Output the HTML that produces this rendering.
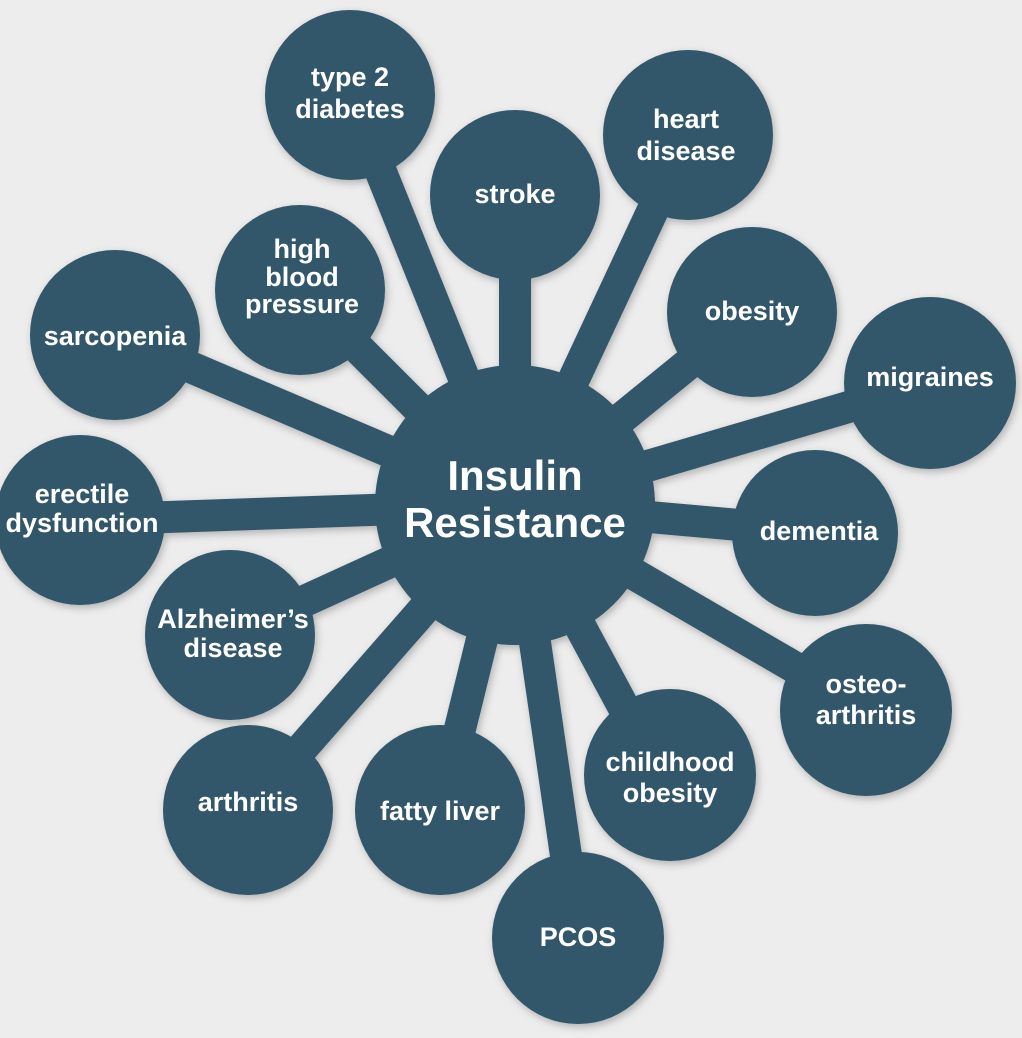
<!DOCTYPE html>
<html><head><meta charset="utf-8"><style>
html,body{margin:0;padding:0;background:#ededed;}
svg{display:block}
text{font-family:"Liberation Sans",sans-serif;font-weight:bold;fill:#fff;text-anchor:middle;}
</style></head><body>
<svg width="1022" height="1038" viewBox="0 0 1022 1038">
<defs><filter id="sh" x="-10%" y="-10%" width="120%" height="120%"><feDropShadow dx="2" dy="3" stdDeviation="4" flood-color="#000" flood-opacity="0.25"/></filter></defs>
<g fill="#30566a" stroke="#30566a" stroke-linecap="round" filter="url(#sh)">
<g stroke-width="32">
<line x1="515" y1="505" x2="350" y2="95"/>
<line x1="515" y1="505" x2="515" y2="195"/>
<line x1="515" y1="505" x2="688" y2="135"/>
<line x1="515" y1="505" x2="300" y2="290"/>
<line x1="515" y1="505" x2="115" y2="335"/>
<line x1="515" y1="505" x2="752" y2="312"/>
<line x1="515" y1="505" x2="930" y2="383"/>
<line x1="515" y1="505" x2="80" y2="520"/>
<line x1="515" y1="505" x2="818" y2="532"/>
<line x1="515" y1="505" x2="230" y2="635"/>
<line x1="515" y1="505" x2="868" y2="710"/>
<line x1="515" y1="505" x2="248" y2="810"/>
<line x1="515" y1="505" x2="440" y2="810"/>
<line x1="515" y1="505" x2="660" y2="775"/>
<line x1="515" y1="505" x2="578" y2="938"/>
</g>
<g stroke="none">
<circle cx="515" cy="505" r="140"/>
<circle cx="350" cy="95" r="85"/>
<circle cx="515" cy="195" r="85"/>
<circle cx="688" cy="135" r="85"/>
<circle cx="300" cy="290" r="85"/>
<circle cx="115" cy="335" r="85"/>
<circle cx="752" cy="312" r="85"/>
<circle cx="930" cy="383" r="86"/>
<circle cx="80" cy="520" r="85"/>
<circle cx="815" cy="533" r="83"/>
<circle cx="230" cy="635" r="85"/>
<circle cx="866" cy="710" r="86"/>
<circle cx="248" cy="810" r="85"/>
<circle cx="440" cy="810" r="85"/>
<circle cx="670" cy="775" r="86"/>
<circle cx="578" cy="938" r="86"/>
</g>
</g>
<text x="515" y="490" font-size="42">Insulin</text>
<text x="515" y="537" font-size="42">Resistance</text>
<g font-size="27">
<text x="350" y="86">type 2</text><text x="350" y="118">diabetes</text>
<text x="515" y="203">stroke</text>
<text x="686" y="128">heart</text><text x="686" y="160">disease</text>
<text x="302" y="258">high</text><text x="302" y="286">blood</text><text x="302" y="313">pressure</text>
<text x="115" y="345">sarcopenia</text>
<text x="752" y="320">obesity</text>
<text x="930" y="386">migraines</text>
<text x="82" y="503">erectile</text><text x="82" y="532">dysfunction</text>
<text x="819" y="540">dementia</text>
<text x="233" y="628">Alzheimer’s</text><text x="233" y="657">disease</text>
<text x="866" y="693">osteo-</text><text x="866" y="724">arthritis</text>
<text x="248" y="811">arthritis</text>
<text x="440" y="820">fatty liver</text>
<text x="670" y="771">childhood</text><text x="670" y="802">obesity</text>
<text x="578" y="946">PCOS</text>
</g>
</svg>
</body></html>
